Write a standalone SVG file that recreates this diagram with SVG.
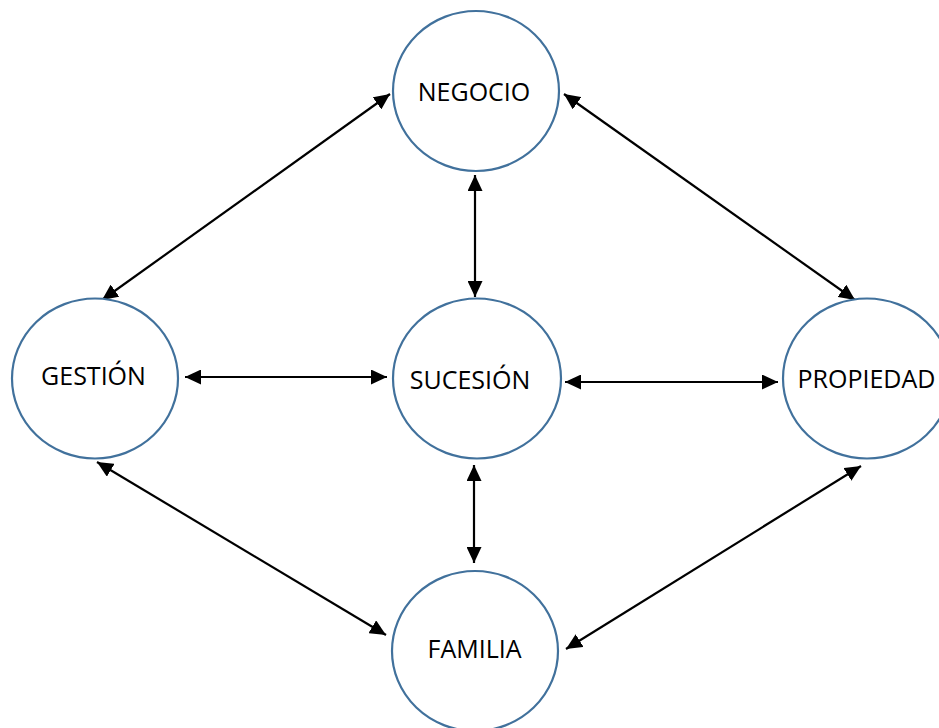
<svg xmlns="http://www.w3.org/2000/svg" width="939" height="728" viewBox="0 0 939 728">
<style>
.node ellipse{fill:#fff;stroke:#41719C;stroke-width:2.2}
.node text{font-family:"Open Sans","Liberation Sans",sans-serif;font-size:25px;fill:#000;text-anchor:middle}
.conn line{stroke:#000;stroke-width:2.2;marker-start:url(#ah);marker-end:url(#ah)}
</style>
<defs>
<marker id="ah" markerUnits="userSpaceOnUse" viewBox="0 0 16 15" refX="16" refY="7.5" markerWidth="16" markerHeight="15" orient="auto-start-reverse">
<path d="M0,0 L16,7.5 L0,15 Z" fill="#000"/>
</marker>
</defs>
<rect width="939" height="728" fill="#fff"/>
<g class="conn">
<line x1="102" y1="300" x2="390" y2="94"/>
<line x1="564" y1="94" x2="855" y2="300"/>
<line x1="475" y1="175" x2="475" y2="297"/>
<line x1="185" y1="377" x2="387" y2="377"/>
<line x1="565" y1="382" x2="778" y2="382"/>
<line x1="474" y1="465" x2="474" y2="563"/>
<line x1="97" y1="462" x2="386" y2="635"/>
<line x1="861" y1="466" x2="566" y2="649"/>
</g>
<g id="negocio" class="node"><ellipse cx="476" cy="91" rx="83" ry="80"/><text x="474" y="101">NEGOCIO</text></g>
<g id="gestion" class="node"><ellipse cx="95" cy="378.5" rx="83" ry="80"/><text x="93.5" y="385">GESTIÓN</text></g>
<g id="sucesion" class="node"><ellipse cx="477" cy="378.5" rx="84" ry="80"/><text x="470" y="389">SUCESIÓN</text></g>
<g id="propiedad" class="node"><ellipse cx="867" cy="378.5" rx="84" ry="80"/><text x="866.5" y="388">PROPIEDAD</text></g>
<g id="familia" class="node"><ellipse cx="475" cy="651" rx="83" ry="80"/><text x="474.5" y="658">FAMILIA</text></g>
</svg>
